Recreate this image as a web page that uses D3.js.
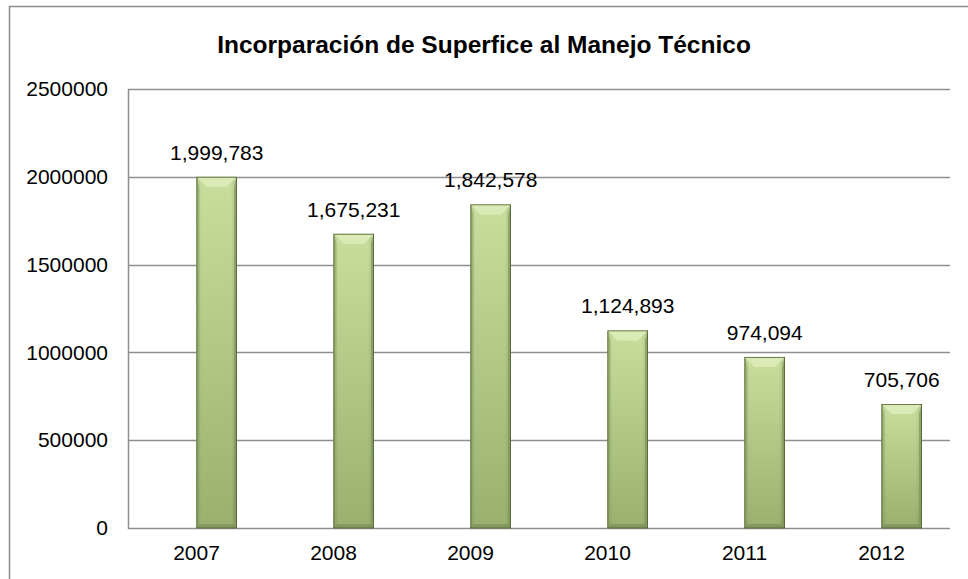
<!DOCTYPE html>
<html><head><meta charset="utf-8">
<script src="https://cdn.jsdelivr.net/npm/d3@7"></script>
<style>html,body{margin:0;padding:0;background:#fff;}svg{display:block;}</style>
</head><body>
<script>
const title = "Incorparación de Superfice al Manejo Técnico";
const categories = ["2007","2008","2009","2010","2011","2012"];
const values = [1999783, 1675231, 1842578, 1124893, 974094, 705706];
const yTicks = [0, 500000, 1000000, 1500000, 2000000, 2500000];
const seriesNames = ["blank", "Superficie"];

const W = 968, H = 579;
const svg = d3.select("body").append("svg").attr("width", W).attr("height", H);
const font = "'Liberation Sans', Arial, sans-serif";

// outer chart border (extends beyond right/bottom)
svg.append("rect").attr("x", 9.5).attr("y", 6.5).attr("width", W + 10).attr("height", H + 10)
  .attr("fill", "none").attr("stroke", "#8c8c8c").attr("stroke-width", 1.5);

const plot = {l: 128, r: 950, t: 89, b: 528};
const x = d3.scaleBand().domain(categories).range([plot.l, plot.r]).padding(0);
const y = d3.scaleLinear().domain([0, 2500000]).range([plot.b, plot.t]);
const clusterW = 81;
const xs = d3.scaleBand().domain(seriesNames).range([0, clusterW]).padding(0);

// gridlines
svg.append("g").selectAll("line").data(yTicks).join("line")
  .attr("x1", plot.l).attr("x2", plot.r)
  .attr("y1", d => Math.round(y(d)) + 0.5).attr("y2", d => Math.round(y(d)) + 0.5)
  .attr("stroke", "#8f8f8f").attr("stroke-width", 1.5);
// left axis line
svg.append("line").attr("x1", plot.l + 0.5).attr("x2", plot.l + 0.5)
  .attr("y1", plot.t).attr("y2", plot.b + 1).attr("stroke", "#8f8f8f").attr("stroke-width", 1.5);

// y axis labels
const yAxis = d3.axisLeft(y).tickValues(yTicks).tickFormat(d3.format("d")).tickSize(0).tickPadding(20);
const ya = svg.append("g").attr("transform", `translate(${plot.l},0)`).call(yAxis);
ya.select(".domain").remove();
ya.selectAll("text").attr("font-family", font).attr("font-size", 21).attr("fill", "#000");

// x axis labels
const xAxis = d3.axisBottom(x).tickSize(0).tickPadding(17);
const xa = svg.append("g").attr("transform", `translate(0,${plot.b})`).call(xAxis);
xa.select(".domain").remove();
xa.selectAll("text").attr("font-family", font).attr("font-size", 21).attr("fill", "#000");

// gradients
const defs = svg.append("defs");
const g1 = defs.append("linearGradient").attr("id", "barV").attr("x1", 0).attr("y1", 0).attr("x2", 0).attr("y2", 1);
g1.append("stop").attr("offset", "0%").attr("stop-color", "#c8de9c");
g1.append("stop").attr("offset", "100%").attr("stop-color", "#9ab06f");
const g2 = defs.append("linearGradient").attr("id", "barH").attr("x1", 0).attr("y1", 0).attr("x2", 1).attr("y2", 0);
g2.append("stop").attr("offset", "0%").attr("stop-color", "#000").attr("stop-opacity", 0.10);
g2.append("stop").attr("offset", "12%").attr("stop-color", "#000").attr("stop-opacity", 0.0);
g2.append("stop").attr("offset", "85%").attr("stop-color", "#000").attr("stop-opacity", 0.0);
g2.append("stop").attr("offset", "100%").attr("stop-color", "#000").attr("stop-opacity", 0.14);

const data = categories.map((c, i) => ({c, v: values[i]}));
const bars = svg.append("g").selectAll("g").data(data).join("g");
// cluster centered in band; the value bar is the right half of the cluster
const barX = d => x(d.c) + (x.bandwidth() - clusterW) / 2 + xs("Superficie");
const bw = xs.bandwidth();
bars.append("rect").attr("x", barX).attr("y", d => y(d.v)).attr("width", bw)
  .attr("height", d => y(0) - y(d.v)).attr("fill", "url(#barV)");
bars.append("rect").attr("x", barX).attr("y", d => y(d.v)).attr("width", bw)
  .attr("height", d => y(0) - y(d.v)).attr("fill", "url(#barH)");
const bev = 10;
// top bevel
bars.append("polygon").attr("points", d => {
  const x0 = barX(d), x1 = x0 + bw, y0 = y(d.v);
  return [[x0, y0], [x1, y0], [x1 - bev, y0 + bev], [x0 + bev, y0 + bev]].join(" ");
}).attr("fill", "#dbebb7");
// left bevel
bars.append("polygon").attr("points", d => {
  const x0 = barX(d), y0 = y(d.v), y1 = y(0);
  return [[x0, y0], [x0 + 3, y0 + bev], [x0 + 3, y1 - 4], [x0, y1]].join(" ");
}).attr("fill", "#8ea866").attr("opacity", 0.6);
// right bevel
bars.append("polygon").attr("points", d => {
  const x1 = barX(d) + bw, y0 = y(d.v), y1 = y(0);
  return [[x1, y0], [x1 - 3, y0 + bev], [x1 - 3, y1 - 4], [x1, y1]].join(" ");
}).attr("fill", "#7f9758").attr("opacity", 0.7);
// bottom bevel
bars.append("polygon").attr("points", d => {
  const x0 = barX(d), x1 = x0 + bw, y1 = y(0);
  return [[x0, y1], [x0 + 3, y1 - 4], [x1 - 3, y1 - 4], [x1, y1]].join(" ");
}).attr("fill", "#7e935e").attr("opacity", 0.8);
// outline
bars.append("rect").attr("x", d => barX(d) + 0.4).attr("y", d => y(d.v) + 0.4).attr("width", bw - 0.8)
  .attr("height", d => y(0) - y(d.v) - 0.4).attr("fill", "none").attr("stroke", "#4f5f33").attr("stroke-width", 0.8);

// value labels
bars.append("text").attr("x", d => barX(d) + bw / 2).attr("y", d => y(d.v) - 17)
  .attr("text-anchor", "middle").attr("font-family", font).attr("font-size", 21).attr("fill", "#000")
  .text(d => d3.format(",")(d.v));

// title
svg.append("text").attr("x", 484).attr("y", 53).attr("text-anchor", "middle")
  .attr("font-family", font).attr("font-size", 24.5).attr("font-weight", "bold").attr("fill", "#000")
  .text(title);
</script>
</body></html>
